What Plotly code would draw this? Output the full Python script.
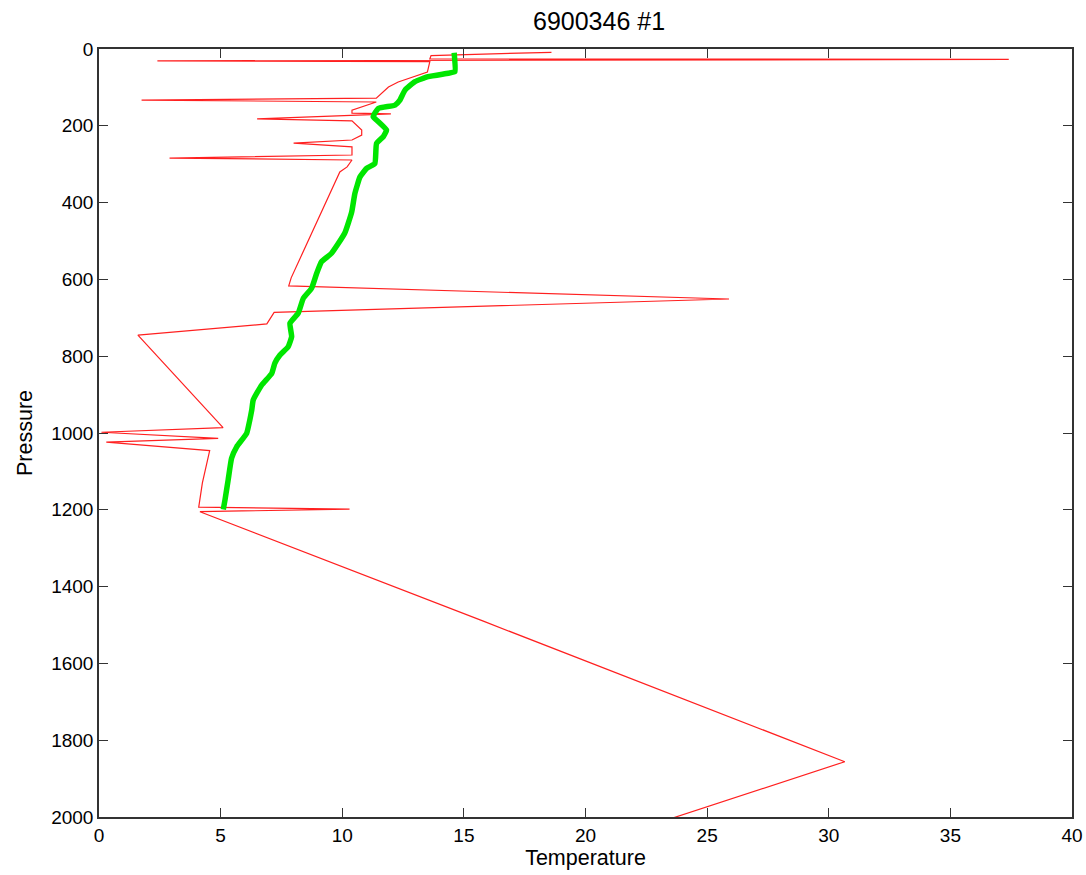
import plotly.graph_objects as go

# Raw profile (red)
raw_temp = [18.6, 13.65, 13.6, 37.4, 2.4, 13.6, 13.5, 12.3, 11.9, 11.6, 11.4, 1.75, 11.4,
            10.4, 10.4, 12.0, 6.5, 10.4, 10.8, 10.8, 10.4, 8.0, 10.4, 10.4, 2.9, 10.4,
            10.2, 9.9, 7.9, 7.8, 25.9, 7.2, 6.9, 1.6, 5.1, 0.1, 4.9, 0.3, 4.55, 4.25,
            4.1, 10.3, 4.15, 15.8, 30.66, 21.3]
raw_pres = [8.6, 17, 26, 27, 31, 33, 60, 86, 99, 115, 128, 133, 138,
            159, 167, 169, 182, 187, 211, 224, 237, 245, 255, 276, 284, 289,
            307, 320, 596, 617, 651, 686, 716, 745, 986, 998, 1014, 1024, 1046, 1130,
            1193, 1198, 1205, 1490, 1856, 2050]

# Reference / climatology profile (green)
ref_temp = [14.6, 14.63, 14.36, 13.53, 12.99, 12.58, 12.37, 12.17, 11.48, 11.27, 11.48,
            11.82, 11.69, 11.41, 11.34, 11.0, 10.73, 10.52, 10.39, 10.1, 9.56, 9.15,
            8.95, 8.74, 8.4, 8.19, 7.85, 7.92, 7.78, 7.44, 7.23, 7.1, 6.69, 6.34, 6.28,
            6.2, 6.07, 5.66, 5.45, 5.31, 5.18, 5.11]
ref_pres = [9.6, 59, 63, 72, 85, 107, 133, 146, 155, 176, 189,
            211, 228, 246, 298, 311, 333, 376, 424, 480, 532, 554,
            584, 623, 649, 688, 714, 749, 775, 797, 818, 845, 875, 914, 940,
            966, 1001, 1036, 1066, 1122, 1174, 1199]

x_ticks = [0, 5, 10, 15, 20, 25, 30, 35, 40]
y_ticks = [0, 200, 400, 600, 800, 1000, 1200, 1400, 1600, 1800, 2000]

FONT = "Liberation Sans, Arial, Helvetica, sans-serif"

fig = go.Figure()
fig.add_trace(go.Scatter(x=raw_temp, y=raw_pres, mode="lines",
                         line=dict(color="#ff2020", width=1.2), showlegend=False))
fig.add_trace(go.Scatter(x=ref_temp, y=ref_pres, mode="lines",
                         line=dict(color="#00e600", width=5.5, shape="spline", smoothing=0.4),
                         showlegend=False))

tick_font = dict(family=FONT, size=19, color="black")
title_font = dict(family=FONT, size=21.5, color="black")
fig.update_layout(
    width=1086, height=875,
    margin=dict(l=99, r=14, t=49, b=58, autoexpand=False),
    paper_bgcolor="white", plot_bgcolor="white",
    title=dict(text="6900346 #1", x=0.5516, xanchor="center", y=0.976, yanchor="middle",
               font=dict(family=FONT, size=25, color="black")),
    font=tick_font,
)
fig.update_xaxes(range=[0, 40], tickvals=x_ticks, ticktext=[str(v) for v in x_ticks],
                 ticks="inside", ticklen=9, tickcolor="#333", tickwidth=1.3,
                 showline=True, linecolor="#333", linewidth=1.5, mirror="ticks",
                 showgrid=False, zeroline=False, automargin=False,
                 title=dict(text="Temperature", font=title_font, standoff=2),
                 tickfont=tick_font)
fig.update_yaxes(range=[2000, 0], tickvals=y_ticks, ticktext=[str(v) for v in y_ticks],
                 ticks="inside", ticklen=9, tickcolor="#333", tickwidth=1.3,
                 showline=True, linecolor="#333", linewidth=1.5, mirror="ticks",
                 showgrid=False, zeroline=False, automargin=False,
                 title=dict(text="Pressure", font=title_font, standoff=13),
                 tickfont=tick_font)

fig.write_html("out.html")
